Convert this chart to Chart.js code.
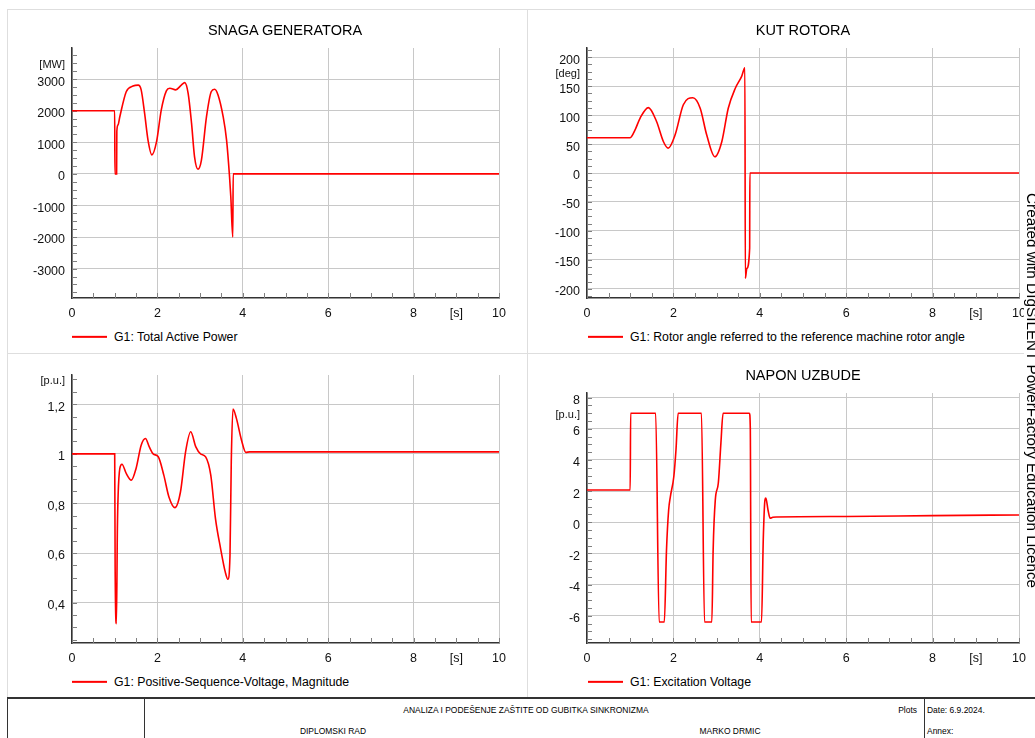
<!DOCTYPE html>
<html>
<head>
<meta charset="utf-8">
<script src="https://cdn.jsdelivr.net/npm/chart.js@4.4.1/dist/chart.umd.min.js"></script>
<style>
  body { margin: 0; width: 1035px; height: 738px; overflow: hidden; background: #fff; position: relative;
         font-family: "Liberation Sans", Arial, sans-serif; color: #000; }
  canvas { position: absolute; }
  .ln { position: absolute; background: #dedede; }
  .dk { position: absolute; background: #333; }
  .ttl { position: absolute; font-size: 14.5px; white-space: nowrap; line-height: 1; transform: translate(-50%, -50%); }
  .lg { position: absolute; font-size: 12.3px; white-space: nowrap; line-height: 1; transform: translateY(-50%); }
  .lg i { position: absolute; left: 0; top: 50%; width: 35px; height: 2px; margin-top: -1px; background: #ff0000; }
  .lg span { padding-left: 42px; }
  .tb { position: absolute; font-family: "Liberation Sans Narrow", "Liberation Sans", Arial, sans-serif;
        font-size: 9.5px; white-space: nowrap; line-height: 1; }
  .vert { position: absolute; left: 1040px; top: 193px; transform-origin: 0 0; transform: rotate(90deg);
          font-size: 15.3px; line-height: 15.6px; height: 15.6px; background: #fff; white-space: nowrap; padding-right: 4px; }
</style>
</head>
<body>

<div class="ln" style="left:7px;top:9px;width:1028px;height:1px"></div>
<div class="ln" style="left:7px;top:9px;width:1px;height:688px"></div>
<div class="ln" style="left:527px;top:9px;width:1px;height:688px"></div>
<div class="ln" style="left:7px;top:353px;width:1028px;height:1px"></div>

<canvas id="c1" width="519" height="314" style="left:8px;top:10px"></canvas>
<canvas id="c2" width="508" height="314" style="left:527px;top:10px"></canvas>
<canvas id="c3" width="519" height="315" style="left:8px;top:354px"></canvas>
<canvas id="c4" width="508" height="315" style="left:527px;top:354px"></canvas>

<div class="ttl" style="left:285px;top:30px">SNAGA GENERATORA</div>
<div class="ttl" style="left:803px;top:30px">KUT ROTORA</div>
<div class="ttl" style="left:803px;top:375px">NAPON UZBUDE</div>

<div class="lg" id="lg1" style="left:72px;top:337px"></div>
<div class="lg" id="lg2" style="left:588px;top:337px"></div>
<div class="lg" id="lg3" style="left:72px;top:682px"></div>
<div class="lg" id="lg4" style="left:588px;top:682px"></div>

<div class="dk" style="left:7px;top:697px;width:1028px;height:2px"></div>
<div class="dk" style="left:7px;top:697px;width:1px;height:41px"></div>
<div class="dk" style="left:144px;top:697px;width:1px;height:41px"></div>
<div class="dk" style="left:924px;top:697px;width:1px;height:41px"></div>
<div class="tb" style="left:526px;top:710px;transform:translate(-50%,-50%) scaleX(0.89)">ANALIZA I PODEŠENJE ZAŠTITE OD GUBITKA SINKRONIZMA</div>
<div class="tb" style="left:333px;top:731px;transform:translate(-50%,-50%) scaleX(0.89)">DIPLOMSKI RAD</div>
<div class="tb" style="left:730px;top:731px;transform:translate(-50%,-50%) scaleX(0.89)">MARKO DRMIC</div>
<div class="tb" style="left:917px;top:710px;transform:translate(-100%,-50%) scaleX(0.89);transform-origin:100% 50%">Plots</div>
<div class="tb" style="left:927px;top:710px;transform:translateY(-50%) scaleX(0.89);transform-origin:0 50%">Date: 6.9.2024.</div>
<div class="tb" style="left:927px;top:731px;transform:translateY(-50%) scaleX(0.89);transform-origin:0 50%">Annex:</div>

<div class="vert">Created with DIgSILENT PowerFactory Education Licence</div>

<script>
// time axis [s]
const xTicks = [0, 1, 2, 3, 4, 5, 6, 7, 8, 9, 10]

// G1: Total Active Power [MW]
const timeP = [0, 1.0, 1.005, 1.045, 1.05, 1.078, 1.12, 1.27, 1.43, 1.55, 1.62, 1.70, 1.78, 1.87, 1.98, 2.09,
  2.21, 2.29, 2.43, 2.56, 2.64, 2.72, 2.80, 2.87, 2.95, 3.03, 3.15, 3.26, 3.34, 3.42, 3.54, 3.62, 3.69,
  3.72, 3.765, 3.775, 10]
const powerMW = [2000, 2000, 0, 0, 1350, 1550, 1810, 2600, 2780, 2810, 2660, 1920, 1070, 600, 1020, 2020,
  2630, 2710, 2660, 2810, 2890, 2550, 1600, 540, 150, 430, 1810, 2600, 2680, 2500, 1810, 1070, -100,
  -750, -2000, 0, 0]
const ticksP = [-3000, -2000, -1000, 0, 1000, 2000, 3000]

// G1: Rotor angle [deg]
const timeDelta = [0, 1.0, 1.11, 1.23, 1.42, 1.61, 1.77, 1.88, 2.04, 2.23, 2.45, 2.62, 2.77, 2.96, 3.12,
  3.27, 3.43, 3.58, 3.655, 3.665, 3.70, 3.765, 3.77, 10]
const rotorDeg = [61, 61, 74, 95, 113, 89, 54, 43, 66, 118, 130, 112, 66, 28, 54,
  112, 146, 167, 182, -182, -165, -130, 0, 0]
const ticksDelta = [-200, -150, -100, -50, 0, 50, 100, 150, 200]

// G1: Positive-Sequence-Voltage, Magnitude [p.u.]
const timeU = [0, 1.0, 1.01, 1.04, 1.063, 1.08, 1.12, 1.17, 1.27, 1.39, 1.50, 1.62, 1.72, 1.81, 1.90, 2.02,
  2.15, 2.27, 2.41, 2.54, 2.66, 2.78, 2.90, 3.01, 3.13, 3.25, 3.36, 3.48, 3.59, 3.65, 3.70, 3.73, 3.77,
  3.85, 3.97, 4.07, 4.16, 10]
const voltagePU = [1.0, 1.0, 0.55, 0.315, 0.70, 0.833, 0.941, 0.958, 0.921, 0.894, 0.941, 1.035, 1.062, 1.028, 1.0, 0.988,
  0.914, 0.826, 0.783, 0.846, 1.008, 1.089, 1.028, 1.0, 0.988, 0.914, 0.739, 0.618, 0.523, 0.494, 0.591, 0.968, 1.181,
  1.143, 1.055, 1.006, 1.008, 1.008]
const ticksU = [0.4, 0.6, 0.8, 1, 1.2]

// G1: Excitation Voltage [p.u.]
const timeE = [0, 1.0, 1.01, 1.59, 1.67, 1.79, 1.84, 1.89, 1.93, 2.01, 2.06, 2.11, 2.65, 2.72, 2.89, 2.92,
  2.97, 3.04, 3.10, 3.15, 3.76, 3.78, 3.80, 4.04, 4.08, 4.12, 4.14, 4.19, 4.24, 4.30, 4.38, 6, 8, 10]
const excitationPU = [2.07, 2.07, 7.0, 7.0, -6.4, -6.4, -1.79, 0.79, 1.65, 2.94, 4.66, 7.0, 7.0, -6.4, -6.4, -1.79,
  1.44, 2.52, 5.1, 7.0, 7.0, 6.06, -6.4, -6.4, -1.14, 1.44, 1.55, 0.79, 0.26, 0.32, 0.34, 0.37, 0.43, 0.47]
const ticksE = [-6, -4, -2, 0, 2, 4, 6, 8]

const FONT = '"Liberation Sans", Arial, sans-serif'
const GRID = '#c8c8c8'

// short inward tick marks + unit label above the top value
const minorTicks = {
  id: 'minorTicks',
  beforeDatasetsDraw(chart, args, opts) {
    const { ctx, chartArea: a, scales: { x, y } } = chart
    ctx.save()
    ctx.strokeStyle = '#808080'
    ctx.lineWidth = 1
    ctx.beginPath()
    for (let i = 0; i * opts.xStep <= x.max + 1e-9; i++) {
      const px = Math.round(x.getPixelForValue(i * opts.xStep)) + 0.5
      ctx.moveTo(px, a.bottom)
      ctx.lineTo(px, a.bottom - 5)
    }
    const first = Math.ceil(y.min / opts.yStep)
    for (let i = first; i * opts.yStep <= y.max + 1e-9; i++) {
      const py = Math.round(y.getPixelForValue(i * opts.yStep)) + 0.5
      ctx.moveTo(a.left, py)
      ctx.lineTo(a.left + 5, py)
    }
    ctx.stroke()
    ctx.fillStyle = '#111'
    ctx.font = '11px ' + FONT
    ctx.textAlign = 'right'
    ctx.textBaseline = 'middle'
    ctx.fillText(opts.unit, a.left - 7, y.getPixelForValue(opts.unitAt) + 2)
    ctx.restore()
  }
}

function makeChart(id, c) {
  const ctx = document.getElementById(id).getContext('2d')
  return new Chart(ctx, {
    type: 'line',
    data: {
      datasets: [{
        label: c.label,
        data: c.t.map((t, i) => ({ x: t, y: c.v[i] })),
        borderColor: '#ff0000',
        borderWidth: 1.6,
        pointRadius: 0,
        cubicInterpolationMode: 'monotone',
        fill: false,
      }],
    },
    options: {
      responsive: false,
      animation: false,
      events: [],
      layout: { padding: { top: c.padTop, right: c.padRight, left: 0, bottom: 0 } },
      plugins: {
        legend: { display: false },
        tooltip: { enabled: false },
        minorTicks: { xStep: 0.5, yStep: c.yStep, unit: c.unit, unitAt: c.unitAt },
      },
      scales: {
        x: {
          type: 'linear',
          min: 0,
          max: 10,
          afterBuildTicks: s => { s.ticks = xTicks.map(v => ({ value: v })) },
          afterFit: s => { s.height = 26 },
          grid: { color: g => (g.tick && g.tick.value % 2 === 0 ? GRID : 'rgba(0,0,0,0)'), drawTicks: false },
          border: { color: '#333', width: 1.5 },
          ticks: {
            autoSkip: false, maxRotation: 0, padding: 8, color: '#111',
            font: { family: FONT, size: 12.5 },
            callback: v => (v === 9 ? '[s]' : v % 2 === 0 ? String(v) : ''),
          },
        },
        y: {
          type: 'linear',
          min: c.min,
          max: c.max,
          afterBuildTicks: s => { s.ticks = c.ticks.map(v => ({ value: v })) },
          afterFit: s => { s.width = c.yWidth },
          grid: { color: GRID, drawTicks: false },
          border: { color: '#333', width: 1.5 },
          ticks: {
            autoSkip: false, padding: 7, labelOffset: 3, color: '#111',
            font: { family: FONT, size: 12.5 },
            callback: v => String(v).replace('.', ','),
          },
        },
      },
    },
    plugins: [minorTicks],
  })
}

const charts = [
  makeChart('c1', { label: 'G1: Total Active Power', t: timeP, v: powerMW, ticks: ticksP,
    min: -3930, max: 3985, yStep: 250, unit: '[MW]', unitAt: 3500, padTop: 38, padRight: 28, yWidth: 64 }),
  makeChart('c2', { label: 'G1: Rotor angle referred to the reference machine rotor angle', t: timeDelta, v: rotorDeg,
    ticks: ticksDelta, min: -216, max: 216, yStep: 12.5, unit: '[deg]', unitAt: 175, padTop: 38, padRight: 16, yWidth: 60 }),
  makeChart('c3', { label: 'G1: Positive-Sequence-Voltage, Magnitude', t: timeU, v: voltagePU, ticks: ticksU,
    min: 0.237, max: 1.318, yStep: 0.05, unit: '[p.u.]', unitAt: 1.3, padTop: 21, padRight: 28, yWidth: 64 }),
  makeChart('c4', { label: 'G1: Excitation Voltage', t: timeE, v: excitationPU, ticks: ticksE,
    min: -7.75, max: 8.3, yStep: 0.5, unit: '[p.u.]', unitAt: 7, padTop: 39, padRight: 16, yWidth: 60 }),
]

charts.forEach((ch, i) => {
  document.getElementById('lg' + (i + 1)).innerHTML = '<i></i><span>' + ch.data.datasets[0].label + '</span>'
})
</script>
</body>
</html>
